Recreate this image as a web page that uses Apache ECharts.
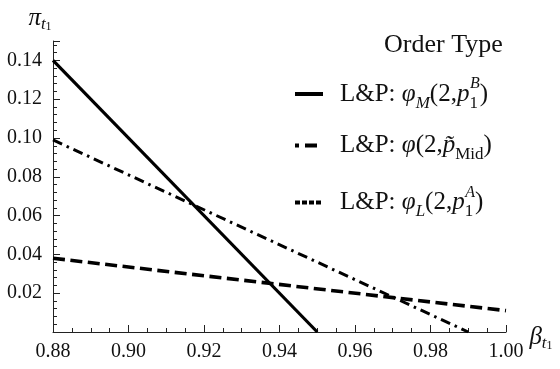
<!DOCTYPE html>
<html>
<head>
<meta charset="utf-8">
<script src="https://cdn.jsdelivr.net/npm/echarts@6/dist/echarts.min.js"></script>
<style>html,body{margin:0;padding:0;background:#fff;}#c{width:560px;height:369px;}</style>
</head>
<body>
<div id="c"></div>
<script>
// ---- data ----
const seriesNames = ['phiM', 'phiMid', 'phiL'];
const phiMX = [0.88, 0.95];
const phiMY = [0.14, 0.0];
const phiMidX = [0.88, 0.99];
const phiMidY = [0.099, 0.0];
const phiLX = [0.88, 1.00];
const phiLY = [0.038, 0.011];
const xTicks = ['0.88', '0.90', '0.92', '0.94', '0.96', '0.98', '1.00'];
const yTicks = ['0.02', '0.04', '0.06', '0.08', '0.10', '0.12', '0.14'];
const legendTitle = 'Order Type';

const SERIF = 'Liberation Serif';
const TXT = '#111';
function pts(xs, ys) { return xs.map((x, i) => [x, ys[i]]); }

const chart = echarts.init(document.getElementById('c'), null, {renderer: 'canvas'});

const base = {fontFamily: SERIF, fontSize: 25, color: TXT, lineHeight: 36};
const it = Object.assign({}, base, {fontStyle: 'italic'});
const sub = {fontFamily: SERIF, fontSize: 17, color: TXT, fontStyle: 'italic', lineHeight: 21, verticalAlign: 'bottom'};
const subR = Object.assign({}, sub, {fontStyle: 'normal'});
const subOv = Object.assign({}, subR, {padding: [0, -8, 0, 0]});
const sup = {fontFamily: SERIF, fontSize: 16, color: TXT, fontStyle: 'italic', lineHeight: 16, verticalAlign: 'top'};
const rich = {r: base, i: it, s: sub, sr: subR, so: subOv, u: sup};

const legendText = {
  phiM: '{r|L&P: }{i|φ}{s|M}{r|(2,}{i|p}{so|1}{u|B}{r|)}',
  phiMid: '{r|L&P: }{i|φ}{r|(2,}{i|p̃}{sr|Mid}{r|)}',
  phiL: '{r|L&P: }{i|φ}{s|L}{r|(2,}{i|p}{so|1}{u|A}{r|)}'
};
const legendDash = {phiM: 'solid', phiMid: [4, 6, 12, 20], phiL: [5, 2]};

const axisLineStyle = {color: '#222', width: 1};

chart.setOption({
  animation: false,
  backgroundColor: '#fff',
  title: {
    text: legendTitle,
    left: 379, top: 27,
    textStyle: {fontFamily: SERIF, fontSize: 26, fontWeight: 'normal', color: TXT}
  },
  legend: {
    orient: 'vertical',
    left: 288, top: 71,
    itemWidth: 28, itemHeight: 10,
    itemGap: 21,
    itemStyle: {opacity: 0},
    data: seriesNames.map(n => ({name: n, lineStyle: {width: 4, color: '#000', type: legendDash[n]}})),
    formatter: n => legendText[n],
    textStyle: {rich: rich, padding: [0, 0, 0, 12]},
    selectedMode: false
  },
  grid: {left: 53, right: 54, top: 41, bottom: 37},
  xAxis: {
    type: 'value',
    min: 0.88, max: 1.0, interval: 0.02,
    name: '{b|β}{t|t}{o|1}',
    nameLocation: 'end', nameGap: 16,
    nameTextStyle: {
      verticalAlign: 'middle', padding: [10, 0, 0, 0],
      rich: {
        b: {fontFamily: SERIF, fontSize: 25, fontStyle: 'italic', color: TXT, lineHeight: 30},
        t: {fontFamily: SERIF, fontSize: 17, fontStyle: 'italic', color: TXT, lineHeight: 20, verticalAlign: 'bottom'},
        o: {fontFamily: SERIF, fontSize: 12, color: TXT, lineHeight: 12, verticalAlign: 'bottom'}
      }
    },
    axisLine: {onZero: false, lineStyle: axisLineStyle},
    axisTick: {inside: true, length: 7, lineStyle: axisLineStyle},
    minorTick: {show: true, splitNumber: 4, length: 4, lineStyle: axisLineStyle},
    splitLine: {show: false},
    axisLabel: {
      margin: 10, fontFamily: SERIF, fontSize: 20, color: TXT,
      formatter: v => { const s = v.toFixed(2); return xTicks.indexOf(s) >= 0 ? s : ''; }
    }
  },
  yAxis: {
    type: 'value',
    min: 0, max: 0.15, interval: 0.02,
    name: '{p|π}{t|t}{o|1}',
    nameLocation: 'end', nameGap: 8,
    nameTextStyle: {
      align: 'center', padding: [0, 26, 0, 0],
      rich: {
        p: {fontFamily: SERIF, fontSize: 25, fontStyle: 'italic', color: TXT, lineHeight: 30},
        t: {fontFamily: SERIF, fontSize: 17, fontStyle: 'italic', color: TXT, lineHeight: 20, verticalAlign: 'bottom'},
        o: {fontFamily: SERIF, fontSize: 12, color: TXT, lineHeight: 12, verticalAlign: 'bottom'}
      }
    },
    axisLine: {onZero: false, lineStyle: axisLineStyle},
    axisTick: {inside: true, length: 7, lineStyle: axisLineStyle},
    minorTick: {show: true, splitNumber: 5, length: 4, lineStyle: axisLineStyle},
    splitLine: {show: false},
    axisLabel: {
      margin: 11, fontFamily: SERIF, fontSize: 20, color: TXT,
      formatter: v => { const s = v.toFixed(2); return yTicks.indexOf(s) >= 0 ? s : ''; }
    }
  },
  series: [
    {
      name: 'phiM', type: 'line', data: pts(phiMX, phiMY), symbol: 'none',
      lineStyle: {color: '#000', width: 3.2, type: 'solid'},
      itemStyle: {color: '#000'}
    },
    {
      name: 'phiMid', type: 'line', data: pts(phiMidX, phiMidY), symbol: 'none',
      lineStyle: {color: '#000', width: 3, type: [10, 5, 2.5, 5]},
      itemStyle: {color: '#000'}
    },
    {
      name: 'phiL', type: 'line', data: pts(phiLX, phiLY), symbol: 'none',
      lineStyle: {color: '#000', width: 3.6, type: [12, 5.5]},
      itemStyle: {color: '#000'}
    }
  ]
});
</script>
</body>
</html>
